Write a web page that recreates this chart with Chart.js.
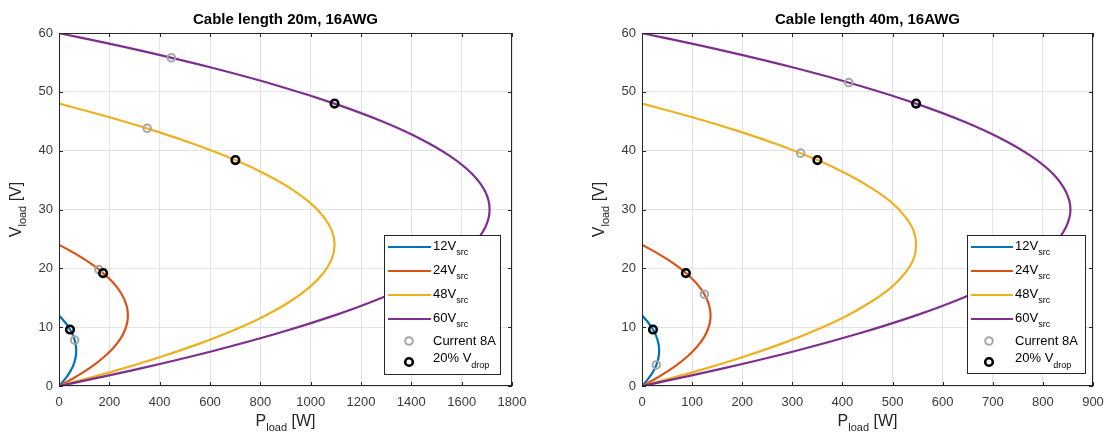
<!DOCTYPE html>
<html><head><meta charset="utf-8">
<script src="https://cdn.jsdelivr.net/npm/chart.js@4.4.0/dist/chart.umd.min.js"></script>
<style>
html,body{margin:0;padding:0;background:#fff;width:1107px;height:435px;overflow:hidden}
.wrap{position:absolute;top:0;height:435px}
#w1{left:0;width:553px}
#w2{left:553px;width:554px}
canvas{display:block}
</style></head><body>
<div class="wrap" id="w1"><canvas id="c1" width="553" height="435"></canvas></div>
<div class="wrap" id="w2"><canvas id="c2" width="554" height="435"></canvas></div>
<script>
// ---------- data ----------
const titles = ['Cable length 20m, 16AWG', 'Cable length 40m, 16AWG'];
const srcLabels = ['12', '24', '48', '60'];
const colors = ['#0072BD', '#D95319', '#EDB120', '#7E2F8E'];
const xTicks20 = [0, 200, 400, 600, 800, 1000, 1200, 1400, 1600, 1800];
const xTicks40 = [0, 100, 200, 300, 400, 500, 600, 700, 800, 900];
const yTicks = [0, 10, 20, 30, 40, 50, 60];

// load voltage samples along each curve (V)
const vload12 = [0,0.6,1.2,1.8,2.4,3.0,3.6,4.2,4.8,5.4,6.0,6.6,7.2,7.8,8.4,9.0,9.6,10.2,10.8,11.4,12];
const vload24 = [0,1.2,2.4,3.6,4.8,6,7.2,8.4,9.6,10.8,12,13.2,14.4,15.6,16.8,18,19.2,20.4,21.6,22.8,24];
const vload48 = [0,2.4,4.8,7.2,9.6,12,14.4,16.8,19.2,21.6,24,26.4,28.8,31.2,33.6,36,38.4,40.8,43.2,45.6,48];
const vload60 = [0,3,6,9,12,15,18,21,24,27,30,33,36,39,42,45,48,51,54,57,60];

// load power (W), cable 20m
const p20_12 = [0,13.0,24.6,34.9,43.8,51.3,57.5,62.2,65.7,67.7,68.4,67.7,65.7,62.2,57.5,51.3,43.8,34.9,24.6,13.0,0];
const p20_24 = [0,52.0,98.6,139.6,175.2,205.4,230.0,249.2,262.8,271.1,273.8,271.1,262.8,249.2,230.0,205.4,175.2,139.6,98.6,52.0,0];
const p20_48 = [0,208,394,558,701,821,920,996,1051,1084,1095,1084,1051,996,920,821,701,558,394,208,0];
const p20_60 = [0,325,616,873,1095,1283,1437,1557,1643,1694,1711,1694,1643,1557,1437,1283,1095,873,616,325,0];
// load power (W), cable 40m
const p40_12 = [0,6.5,12.3,17.4,21.9,25.7,28.7,31.1,32.8,33.9,34.2,33.9,32.8,31.1,28.7,25.7,21.9,17.4,12.3,6.5,0];
const p40_24 = [0,26.0,49.2,69.8,87.6,102.6,114.9,124.5,131.3,135.4,136.8,135.4,131.3,124.5,114.9,102.6,87.6,69.8,49.2,26.0,0];
const p40_48 = [0,104,197,279,350,410,459,498,525,542,547,542,525,498,459,410,350,279,197,104,0];
const p40_60 = [0,162,308,436,547,641,718,778,821,846,855,846,821,778,718,641,547,436,308,162,0];

// markers: current 8A (gray) and 20% Vdrop (black)
const gray20P = [62.3, 158.3, 350.3, 446.3];
const gray20V = [7.79, 19.79, 43.79, 55.79];
const black20P = [43.8, 175.2, 701, 1095];
const black20V = [9.6, 19.2, 38.4, 48];
const gray40P = [28.6, 124.6, 316.6, 412.6];
const gray40V = [3.58, 15.58, 39.58, 51.58];
const black40P = [21.9, 87.6, 350, 547];
const black40V = [9.6, 19.2, 38.4, 48];

// ---------- drawing ----------
const FF = '"Liberation Sans", Arial, Helvetica, sans-serif';
const vArrays = [vload12, vload24, vload48, vload60];
const GRAY = '#a6a6a6';

function buildDatasets(pArrays, gP, gV, bP, bV) {
  const ds = [];
  pArrays.forEach((p, i) => {
    ds.push({
      label: srcLabels[i] + 'V', showLine: true,
      data: p.map((x, j) => ({x: x, y: vArrays[i][j]})),
      borderColor: colors[i], backgroundColor: colors[i], borderWidth: 2.2,
      pointRadius: 0, pointHoverRadius: 0, tension: 0.4, fill: false, order: 4 - i
    });
  });
  ds.push({
    label: 'Current 8A', showLine: false,
    data: gP.map((x, j) => ({x: x, y: gV[j]})),
    pointRadius: 3.8, pointBorderWidth: 2, pointBorderColor: GRAY,
    pointBackgroundColor: 'rgba(0,0,0,0)', order: 0
  });
  ds.push({
    label: '20% Vdrop', showLine: false,
    data: bP.map((x, j) => ({x: x, y: bV[j]})),
    pointRadius: 3.8, pointBorderWidth: 2.6, pointBorderColor: '#000',
    pointBackgroundColor: 'rgba(0,0,0,0)', order: -1
  });
  return ds;
}

function richText(ctx, parts, x, y, align, color) {
  let total = 0;
  const ws = parts.map(p => { ctx.font = (p.b ? 'bold ' : '') + p.s + 'px ' + FF; const w = ctx.measureText(p.t).width; total += w; return w; });
  let cx = align === 'center' ? x - total / 2 : (align === 'right' ? x - total : x);
  ctx.textAlign = 'left'; ctx.textBaseline = 'middle'; ctx.fillStyle = color;
  parts.forEach((p, i) => {
    ctx.font = (p.b ? 'bold ' : '') + p.s + 'px ' + FF;
    ctx.fillText(p.t, cx, y + (p.dy || 0));
    cx += ws[i];
  });
}

const decorPlugin = {
  id: 'decor',
  afterDraw(chart, args, o) {
    const ctx = chart.ctx, a = chart.chartArea, xs = chart.scales.x, ys = chart.scales.y;
    ctx.save();
    // frame
    ctx.strokeStyle = '#262626'; ctx.lineWidth = 1;
    ctx.strokeRect(a.left + 0.5, a.top + 0.5, a.right - a.left - 1, a.bottom - a.top - 1);
    // inward ticks
    const TL = 4;
    ctx.beginPath();
    o.xTicks.forEach(v => {
      const px = Math.round(xs.getPixelForValue(v)) + 0.5;
      ctx.moveTo(px, a.bottom); ctx.lineTo(px, a.bottom - TL);
      ctx.moveTo(px, a.top); ctx.lineTo(px, a.top + TL);
    });
    yTicks.forEach(v => {
      const py = Math.round(ys.getPixelForValue(v)) + 0.5;
      ctx.moveTo(a.left, py); ctx.lineTo(a.left + TL, py);
      ctx.moveTo(a.right, py); ctx.lineTo(a.right - TL, py);
    });
    ctx.stroke();
    // title
    const cxm = (a.left + a.right) / 2;
    richText(ctx, [{t: o.title, s: 15, b: true}], cxm, 20, 'center', '#000');
    // x label
    richText(ctx, [{t: 'P', s: 16}, {t: 'load', s: 11, dy: 6}, {t: ' [W]', s: 16}], cxm, 422, 'center', '#262626');
    // y label
    ctx.save();
    ctx.translate(a.left - 42, (a.top + a.bottom) / 2);
    ctx.rotate(-Math.PI / 2);
    richText(ctx, [{t: 'V', s: 16}, {t: 'load', s: 11, dy: 6}, {t: ' [V]', s: 16}], 0, 0, 'center', '#262626');
    ctx.restore();
    // legend
    const L = o.legend;
    ctx.fillStyle = '#fff';
    ctx.fillRect(L.x, L.y, L.w, L.h);
    ctx.strokeStyle = '#262626'; ctx.lineWidth = 1;
    ctx.strokeRect(L.x + 0.5, L.y + 0.5, L.w, L.h);
    const rows = [247, 271, 295, 319];
    srcLabels.forEach((s, i) => {
      ctx.strokeStyle = colors[i]; ctx.lineWidth = 2.2;
      ctx.beginPath(); ctx.moveTo(L.x + 4, rows[i]); ctx.lineTo(L.x + L.lineEnd, rows[i]); ctx.stroke();
      richText(ctx, [{t: s + 'V', s: 13, dy: -1}, {t: 'src', s: 9, dy: 6}], L.x + L.lineEnd + 2, rows[i], 'left', '#000');
    });
    // marker rows
    ctx.lineWidth = 2; ctx.strokeStyle = GRAY;
    ctx.beginPath(); ctx.arc(L.x + L.mk, 341, 3.8, 0, Math.PI * 2); ctx.stroke();
    ctx.lineWidth = 2.6; ctx.strokeStyle = '#000';
    ctx.beginPath(); ctx.arc(L.x + L.mk, 362, 3.8, 0, Math.PI * 2); ctx.stroke();
    richText(ctx, [{t: 'Current 8A', s: 13}], L.x + L.lineEnd + 2, 341, 'left', '#000');
    richText(ctx, [{t: '20% V', s: 13, dy: -4}, {t: 'drop', s: 9, dy: 4}], L.x + L.lineEnd + 2, 362, 'left', '#000');
    ctx.restore();
  }
};

function makeChart(id, datasets, xMax, xTicks, yAxisW, padRight, title, legend) {
  return new Chart(document.getElementById(id), {
    type: 'scatter',
    data: {datasets: datasets},
    options: {
      responsive: false, animation: false, devicePixelRatio: 1,
      layout: {padding: {left: 0, top: 33, right: padRight, bottom: 0}},
      plugins: {
        legend: {display: false}, tooltip: {enabled: false},
        decor: {title: title, legend: legend, xTicks: xTicks}
      },
      scales: {
        x: {
          type: 'linear', min: 0, max: xMax,
          afterBuildTicks: s => { s.ticks = xTicks.map(v => ({value: v})); },
          afterFit: s => { s.height = 49; s.paddingLeft = 0; s.paddingRight = 0; },
          grid: {color: '#e3e3e3', drawTicks: false, lineWidth: 1},
          border: {display: false},
          ticks: {color: '#3a3a3a', font: {family: FF, size: 13}, padding: 9, maxRotation: 0, autoSkip: false,
                  callback: v => String(v)}
        },
        y: {
          type: 'linear', min: 0, max: 60,
          afterBuildTicks: s => { s.ticks = yTicks.map(v => ({value: v})); },
          afterFit: s => { s.width = yAxisW; s.paddingTop = 0; s.paddingBottom = 0; },
          grid: {color: '#e3e3e3', drawTicks: false, lineWidth: 1},
          border: {display: false},
          ticks: {color: '#3a3a3a', font: {family: FF, size: 13}, padding: 6, autoSkip: false,
                  callback: v => String(v)}
        }
      }
    },
    plugins: [decorPlugin]
  });
}

makeChart('c1', buildDatasets([p20_12, p20_24, p20_48, p20_60], gray20P, gray20V, black20P, black20V),
  1800, xTicks20, 59, 41, titles[0], {x: 384, y: 235, w: 116, h: 139, lineEnd: 47, mk: 25});
makeChart('c2', buildDatasets([p40_12, p40_24, p40_48, p40_60], gray40P, gray40V, black40P, black40V),
  900, xTicks40, 89, 14, titles[1], {x: 414, y: 235, w: 118, h: 138, lineEnd: 46, mk: 22});
</script>
</body></html>
